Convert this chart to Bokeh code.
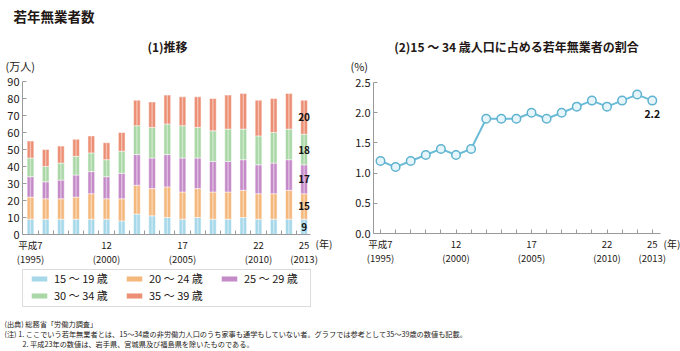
from bokeh.plotting import figure
from bokeh.models import (ColumnDataSource, FixedTicker, Label, Legend, LegendItem,
                          LinearAxis, Range1d, BoxAnnotation)
from bokeh.embed import file_html
from bokeh.resources import INLINE
from bokeh.core.properties import value

JP = "Noto Sans CJK JP"

years = list(range(1995, 2014))
age_15_19 = [9, 9, 9, 9, 9, 9, 8, 12, 11, 10, 9, 10, 9, 9, 10, 9, 9, 9, 9]
age_20_24 = [13, 12, 12, 13, 15, 12, 13, 17, 16, 18, 16, 17, 16, 16, 16, 15, 15, 17, 15]
age_25_29 = [12, 10, 11, 13, 13, 13, 15, 18, 18, 19, 20, 18, 18, 18, 18, 17, 18, 18, 17]
age_30_34 = [11, 9, 10, 11, 11, 10, 13, 17, 18, 18, 19, 18, 18, 19, 18, 17, 18, 18, 18]
age_35_39 = [10, 10, 10, 10, 10, 10, 11, 15, 15, 17, 17, 18, 19, 20, 21, 21, 20, 21, 20]
ratio = [1.2, 1.1, 1.2, 1.3, 1.4, 1.3, 1.4, 1.9, 1.9, 1.9, 2.0, 1.9, 2.0, 2.1, 2.2, 2.1, 2.2, 2.3, 2.2]

series_names = ["15 ～ 19 歳", "20 ～ 24 歳", "25 ～ 29 歳", "30 ～ 34 歳", "35 ～ 39 歳"]
series_keys = ["a15", "a20", "a25", "a30", "a35"]
series_colors = ["#a6d8ea", "#f4b77c", "#c58ac8", "#a9d7a6", "#ec8f74"]

tick_years = [1995, 2000, 2005, 2010, 2013]
tick_labels = ["平成7\n(1995)", "12\n(2000)", "17\n(2005)", "22\n(2010)", "25\n(2013)"]
y1_ticks = [0, 10, 20, 30, 40, 50, 60, 70, 80, 90]
y2_ticks = [0.0, 0.5, 1.0, 1.5, 2.0, 2.5]

notes = [
    "(出典) 総務省「労働力調査」",
    "(注) 1. ここでいう若年無業者とは、15～34歳の非労働力人口のうち家事も通学もしていない者。グラフでは参考として35～39歳の数値も記載。",
    "2. 平成23年の数値は、岩手県、宮城県及び福島県を除いたものである。",
]

AXIS_COLOR = "#9a9a9a"
TEXT_COLOR = "#231815"
W, H = 680, 351

# ---- canvas geometry (pixels) of the two panels ----
L_PPY, L_X1995 = 15.2, 30.0
L_Y0, L_YTOP = 234.0, 81.0
l_ppu = (L_Y0 - L_YTOP) / 90.0
lx_start = 1995 - L_X1995 / L_PPY
ly_start = -(H - L_Y0) / l_ppu
l_axis_x = lx_start + 22 / L_PPY
l_axis_x_end = lx_start + 310 / L_PPY

R_PPY, R_X1995 = 15.1, 380.0
R_Y0, R_YTOP = 233.0, 82.0
r_ppu = (R_Y0 - R_YTOP) / 2.5
rx_start = 1995 - R_X1995 / R_PPY
ry_start = -(H - R_Y0) / r_ppu
r_axis_x = rx_start + 373 / R_PPY
r_axis_x_end = rx_start + 660 / R_PPY

p = figure(width=W, height=H, output_backend="svg", toolbar_location=None,
           x_range=Range1d(lx_start, lx_start + W / L_PPY),
           y_range=Range1d(ly_start, ly_start + H / l_ppu),
           x_axis_location=None, y_axis_location=None,
           min_border=0, min_border_left=0, min_border_right=0,
           min_border_top=0, min_border_bottom=0)
p.extra_x_ranges = {"r": Range1d(rx_start, rx_start + W / R_PPY)}
p.extra_y_ranges = {"r": Range1d(ry_start, ry_start + H / r_ppu)}
p.outline_line_color = None
p.background_fill_color = "white"
p.border_fill_color = "white"
p.grid.visible = False


def make_axis(side, loc, bounds, ticks, minor, rname=None):
    kw = {}
    if rname:
        kw = dict(x_range_name=rname, y_range_name=rname)
    ax = LinearAxis(fixed_location=loc, bounds=bounds,
                    ticker=FixedTicker(ticks=ticks, minor_ticks=minor), **kw)
    ax.axis_line_color = AXIS_COLOR
    ax.major_tick_line_color = AXIS_COLOR
    ax.minor_tick_line_color = AXIS_COLOR
    ax.major_tick_in = 4
    ax.major_tick_out = 0
    ax.minor_tick_in = 4
    ax.minor_tick_out = 0
    ax.major_label_text_color = TEXT_COLOR
    ax.major_label_text_font = JP
    ax.major_label_standoff = 3
    if side == "below":
        ax.major_label_text_font_size = "9.5px"
        ax.major_label_text_line_height = 1.0
        ax.major_label_overrides = dict(zip(tick_years, tick_labels))
    else:
        ax.major_label_text_font_size = "11px"
    p.add_layout(ax, side)
    return ax


# ---------------- left: stacked bars ----------------
src = ColumnDataSource(dict(year=years, a15=age_15_19, a20=age_20_24, a25=age_25_29,
                            a30=age_30_34, a35=age_35_39))
rends = p.vbar_stack(series_keys, x="year", width=0.44, color=series_colors,
                     line_color="white", line_width=0.5, source=src)
# soft highlight stripe down the middle of each bar (same stacked data)
p.vbar_stack(series_keys, x="year", width=0.09, color=["white"] * 5, fill_alpha=0.45,
             line_alpha=0, source=src)

ax_lx = make_axis("below", 0, (l_axis_x, l_axis_x_end), tick_years,
                  [y + 0.5 for y in years[:-1]])
ax_lx.major_tick_in = 0
make_axis("left", l_axis_x, (0, 90), y1_ticks, [])

last = [s[-1] for s in (age_15_19, age_20_24, age_25_29, age_30_34, age_35_39)]
mids, cum = [], 0
for v in last:
    mids.append(cum + v / 2)
    cum += v
lab_src = ColumnDataSource(dict(x=[years[-1]] * len(last), y=mids, t=[str(v) for v in last]))
p.text(x="x", y="y", text="t", source=lab_src, text_align="center", text_baseline="middle",
       text_font=value(JP), text_font_size="10px", text_font_style="bold", text_color="#111111")

# legend: frame box + two rows
p.add_layout(BoxAnnotation(left=22, right=310, top=H - 269, bottom=H - 306,
                           left_units="screen", right_units="screen",
                           top_units="screen", bottom_units="screen",
                           fill_alpha=0, line_color="#8a8a8a", line_width=1))


def legend_row(items):
    lg = Legend(items=items, orientation="horizontal")
    lg.border_line_color = None
    lg.background_fill_alpha = 0
    lg.padding = 0
    lg.spacing = 0
    lg.margin = 0
    lg.label_standoff = 5
    lg.label_width = 70
    lg.glyph_width = 20
    lg.glyph_height = 7
    lg.label_height = 11
    lg.label_text_font = JP
    lg.label_text_font_size = "11px"
    lg.label_text_color = TEXT_COLOR
    p.add_layout(lg)
    return lg


items = [LegendItem(label=n, renderers=[r]) for n, r in zip(series_names, rends)]
lg1 = legend_row(items[:3])
lg2 = legend_row(items[3:])
lg1.location = (29, H - 286)
lg2.location = (29, H - 303)

# ---------------- right: line ----------------
src2 = ColumnDataSource(dict(year=years, r=ratio))
make_axis("below", 0, (r_axis_x, r_axis_x_end), tick_years,
          [y for y in years if y not in tick_years], rname="r")
ax_ry = make_axis("left", r_axis_x, (0, 2.5), y2_ticks, [], rname="r")
ax_ry.major_label_overrides = {t: f"{t:.1f}" for t in y2_ticks}

p.line(x="year", y="r", source=src2, line_color="#6cbcd8", line_width=2,
       x_range_name="r", y_range_name="r")
p.scatter(x="year", y="r", source=src2, marker="circle", size=8.5,
          fill_color="#e6f5fa", line_color="#5fb3d0", line_width=1.5,
          x_range_name="r", y_range_name="r")
p.text(x=[years[-1]], y=[ratio[-1]], text=[f"{ratio[-1]:.1f}"], y_offset=13,
       text_align="center", text_baseline="middle", text_font=value(JP),
       text_font_size="10.5px", text_font_style="bold", text_color="#111111",
       x_range_name="r", y_range_name="r")


# ---------------- texts ----------------
def label(x, y, text, size="11px", bold=False, align="left"):
    p.add_layout(Label(x=x, y=H - y, x_units="screen", y_units="screen", text=text,
                       text_font=JP, text_font_size=size,
                       text_font_style="bold" if bold else "normal",
                       text_align=align, text_baseline="middle", text_color=TEXT_COLOR))


label(13, 15, "若年無業者数", size="13.5px", bold=True)
label(167, 46, "(1)推移", size="12px", bold=True, align="center")
label(516, 46, "(2)15 ～ 34 歳人口に占める若年無業者の割合", size="12px", bold=True, align="center")
label(5, 65, "(万人)", size="11px")
label(350, 65, "(%)", size="11px")
label(315, 243, "(年)", size="10px")
label(663, 243, "(年)", size="10px")
label(4, 323, notes[0], size="7.2px")
label(4, 333, notes[1], size="7.2px")
label(22, 343, notes[2], size="7.2px")

open("out.html", "w").write(file_html(p, INLINE))
